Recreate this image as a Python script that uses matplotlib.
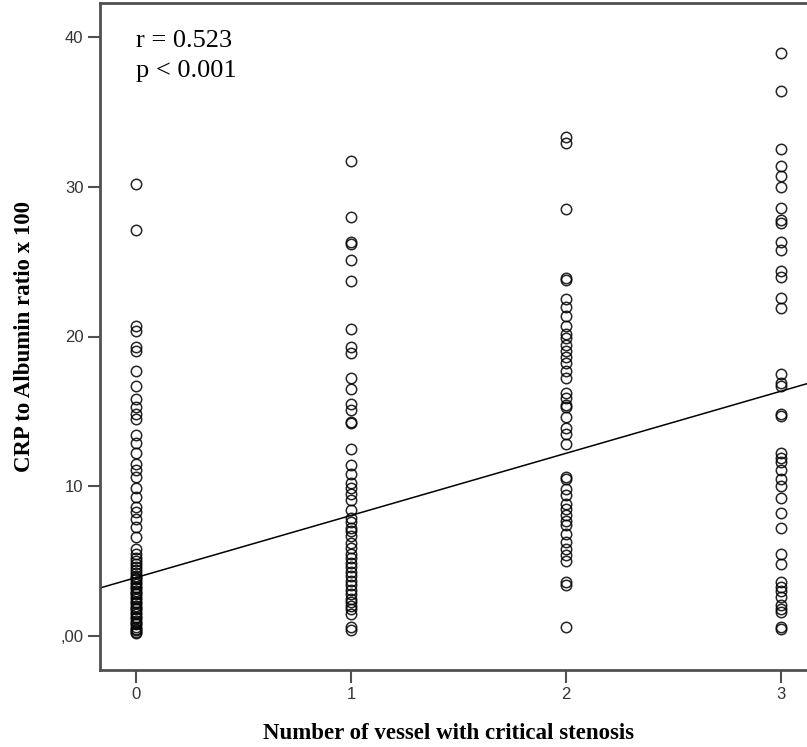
import numpy as np
import matplotlib
matplotlib.use("Agg")
import matplotlib.pyplot as plt
from matplotlib.ticker import FixedLocator

# CRP/albumin ratio (x100) for each number of critically stenosed vessels
vessels_0 = [30.2, 27.1, 20.7, 20.4, 19.3, 19.0, 17.7, 16.7, 15.8, 15.3, 14.8, 14.5,
             13.4, 12.9, 12.2, 11.5, 11.1, 10.6, 9.9, 9.3, 8.6, 8.3, 7.8, 7.3, 6.6,
             5.8, 5.5, 5.2, 5.0, 4.8, 4.6, 4.4, 4.2, 4.0, 3.9, 3.8, 3.6, 3.5, 3.3,
             3.2, 3.0, 2.9, 2.8, 2.6, 2.5, 2.3, 2.2, 2.0, 1.9, 1.8, 1.6, 1.5, 1.3,
             1.2, 1.0, 0.9, 0.8, 0.6, 0.5, 0.4, 0.3, 0.2]
vessels_1 = [31.7, 28.0, 26.3, 26.2, 25.1, 23.7, 20.5, 19.3, 18.9, 17.2, 16.5, 15.5,
             15.1, 14.3, 14.2, 12.5, 11.4, 10.8, 10.2, 9.9, 9.5, 9.1, 8.4, 7.9, 7.6,
             7.2, 7.0, 6.7, 6.2, 5.9, 5.5, 5.2, 4.9, 4.6, 4.3, 4.0, 3.7, 3.4, 3.1,
             2.8, 2.5, 2.3, 2.0, 1.8, 1.5, 0.6, 0.4]
vessels_2 = [33.3, 32.9, 28.5, 23.9, 23.8, 22.5, 22.0, 21.4, 20.7, 20.2, 19.9, 19.4,
             19.0, 18.6, 18.2, 17.7, 17.2, 16.2, 15.9, 15.4, 15.3, 14.6, 13.9, 13.5,
             12.8, 10.6, 10.5, 9.8, 9.4, 8.8, 8.5, 8.1, 7.7, 7.4, 6.8, 6.3, 5.8, 5.4,
             5.0, 3.6, 3.4, 0.6]
vessels_3 = [38.9, 36.4, 32.5, 31.4, 30.7, 30.0, 28.6, 27.8, 27.6, 26.3, 25.8, 24.4,
             24.0, 22.6, 21.9, 17.5, 16.9, 16.7, 14.8, 14.7, 12.2, 11.9, 11.6, 11.1,
             10.5, 10.0, 9.2, 8.2, 7.2, 5.5, 4.8, 3.6, 3.3, 3.0, 2.6, 2.1, 1.8, 1.6,
             0.6, 0.5]
groups = [vessels_0, vessels_1, vessels_2, vessels_3]

# linear fit line
fit_intercept = 3.9
fit_slope = 4.15

r_text = "r = 0.523"
p_text = "p < 0.001"

fig = plt.figure(figsize=(8.07, 7.47), dpi=100)
ax = fig.add_axes([100 / 807, 77 / 747, 717 / 807, 667 / 747])

frame = "#505050"
for i, vals in enumerate(groups):
    ax.plot(np.full(len(vals), i), vals, linestyle="none", marker="o",
            markersize=7.5, markerfacecolor="none", markeredgecolor="black",
            markeredgewidth=1.1, alpha=0.85)

xmin, xmax = -0.167, 3.167
xs = np.array([xmin, xmax])
ax.plot(xs, fit_intercept + fit_slope * xs, color="black", linewidth=1.1)

ax.set_xlim(xmin, xmax)
ax.set_ylim(-2.27, 42.27)
ax.xaxis.set_major_locator(FixedLocator([0, 1, 2, 3]))
ax.yaxis.set_major_locator(FixedLocator([0, 10, 20, 30, 40]))
ax.set_yticklabels([",00", "10", "20", "30", "40"])

for side in ["left", "bottom", "top", "right"]:
    ax.spines[side].set_color(frame)
    ax.spines[side].set_linewidth(2)

ax.tick_params(direction="out", length=9, width=1.5, color=frame,
               labelsize=12, labelcolor="#333333", pad=3)
for lab in ax.get_xticklabels() + ax.get_yticklabels():
    lab.set_family("Liberation Sans")

ax.set_xlabel("Number of vessel with critical stenosis", family="Liberation Serif",
              fontweight="bold", fontsize=16.5)
ax.xaxis.set_label_coords(0.486, -0.08)
ax.set_ylabel("CRP to Albumin ratio x 100", family="Liberation Serif",
              fontweight="bold", fontsize=16.5, labelpad=18)

ax.text(0.0, 39.3, r_text, family="Liberation Serif", fontsize=19, va="baseline")
ax.text(0.0, 37.3, p_text, family="Liberation Serif", fontsize=19, va="baseline")

fig.savefig("out.png", dpi=100)
